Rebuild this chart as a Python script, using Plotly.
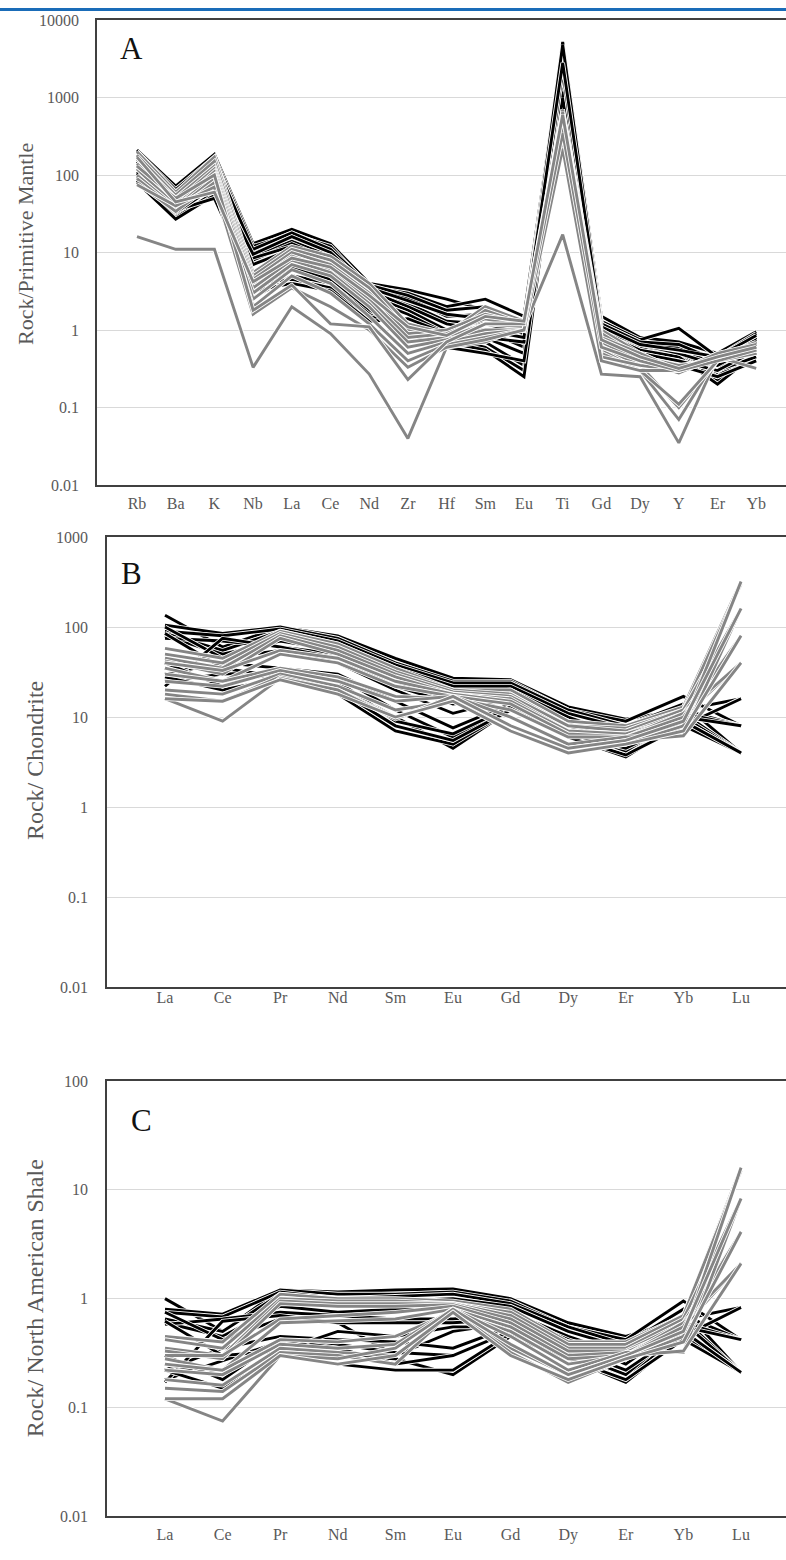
import plotly.graph_objects as go

# ---------------- Panel A : Rock / Primitive Mantle ----------------
elements_a = ["Rb", "Ba", "K", "Nb", "La", "Ce", "Nd", "Zr", "Hf", "Sm", "Eu", "Ti", "Gd", "Dy", "Y", "Er", "Yb"]

a_black = [
    [210, 72, 185, 13, 20, 13, 4.0, 3.3, 2.5, 1.8, 1.3, 5200, 1.5, 0.8, 0.7, 0.5, 0.95],
    [200, 65, 170, 12, 17, 12, 3.6, 3.0, 2.0, 2.5, 1.5, 4500, 1.3, 0.75, 1.05, 0.45, 0.9],
    [180, 55, 160, 10, 15, 10, 3.4, 2.6, 1.5, 1.6, 1.2, 3800, 1.2, 0.7, 0.6, 0.35, 0.85],
    [150, 50, 140, 9, 14, 9, 3.0, 2.2, 1.3, 1.2, 0.9, 3000, 1.1, 0.6, 0.5, 0.3, 0.8],
    [120, 45, 120, 8, 13, 8, 3.2, 2.0, 1.2, 1.0, 0.6, 2500, 1.0, 0.6, 0.55, 0.28, 0.7],
    [110, 40, 110, 8.5, 12, 7, 2.8, 1.8, 1.0, 0.8, 0.5, 2000, 0.9, 0.55, 0.45, 0.25, 0.6],
    [100, 38, 100, 7, 11, 6.5, 2.5, 1.6, 0.9, 0.7, 0.35, 1500, 0.8, 0.5, 0.4, 0.22, 0.5],
    [90, 30, 80, 3.5, 7, 5, 2.0, 1.2, 0.8, 0.6, 0.3, 1800, 0.9, 0.55, 0.45, 0.2, 0.5],
    [85, 28, 60, 3.0, 6.5, 4.5, 1.8, 1.0, 0.7, 0.55, 0.25, 1200, 0.7, 0.45, 0.4, 0.3, 0.45],
    [80, 27, 55, 2.6, 5, 4, 1.6, 0.9, 0.6, 0.5, 0.4, 1000, 0.8, 0.5, 0.35, 0.25, 0.4],
    [95, 35, 50, 4.0, 4.5, 3.5, 1.5, 1.1, 0.7, 0.8, 0.7, 2200, 0.75, 0.5, 0.4, 0.3, 0.55],
    [130, 33, 70, 3.2, 4.0, 3.2, 1.3, 1.4, 0.9, 1.0, 0.8, 3500, 1.0, 0.65, 0.5, 0.35, 0.65],
    [160, 60, 150, 11, 18, 11, 3.8, 2.8, 1.8, 2.0, 1.0, 4800, 1.2, 0.7, 0.65, 0.4, 0.75],
    [105, 42, 90, 9.5, 16, 10, 3.5, 2.4, 1.6, 1.4, 1.1, 2800, 1.1, 0.65, 0.55, 0.45, 0.85],
]
a_gray = [
    [16, 11, 11, 0.33, 2.0, 0.9, 0.27, 0.04, 0.6, 0.7, 1.1, 17, 0.27, 0.25, 0.035, 0.45, 0.32],
    [200, 60, 170, 5.5, 12, 9, 4.0, 1.2, 0.9, 2.0, 1.3, 700, 1.0, 0.5, 0.3, 0.45, 0.7],
    [180, 55, 150, 5, 11, 8, 3.5, 1.0, 0.8, 1.8, 1.2, 650, 0.9, 0.45, 0.35, 0.4, 0.65],
    [160, 50, 130, 4.5, 10, 7, 3.0, 0.9, 1.0, 1.6, 1.2, 600, 0.8, 0.5, 0.3, 0.5, 0.6],
    [140, 45, 120, 4, 9, 6, 2.5, 0.8, 0.9, 1.4, 1.1, 550, 0.7, 0.4, 0.28, 0.45, 0.55],
    [120, 40, 110, 3.5, 8, 5.5, 2.2, 0.7, 0.8, 1.2, 1.1, 500, 0.6, 0.35, 0.1, 0.4, 0.5],
    [100, 38, 100, 3, 7, 5, 2.0, 0.6, 0.75, 1.0, 1.0, 450, 0.55, 0.3, 0.07, 0.45, 0.55],
    [90, 36, 90, 2.5, 6, 4, 1.5, 0.5, 0.7, 0.9, 1.0, 400, 0.5, 0.3, 0.11, 0.4, 0.5],
    [80, 34, 80, 2.0, 5, 3, 1.2, 0.4, 0.65, 0.8, 1.0, 300, 0.45, 0.35, 0.3, 0.45, 0.6],
    [75, 40, 70, 1.6, 3.5, 2, 1.0, 0.33, 0.6, 0.75, 1.0, 220, 0.4, 0.3, 0.3, 0.5, 0.65],
    [130, 50, 100, 1.8, 3.8, 1.2, 1.1, 0.23, 0.7, 1.2, 1.2, 350, 0.6, 0.4, 0.3, 0.4, 0.55],
    [170, 45, 60, 4.2, 8.5, 6.5, 2.8, 1.1, 0.85, 1.5, 1.3, 600, 0.75, 0.45, 0.32, 0.45, 0.6],
]

# ---------------- Panel B : Rock / Chondrite ----------------
elements_ree = ["La", "Ce", "Pr", "Nd", "Sm", "Eu", "Gd", "Dy", "Er", "Yb", "Lu"]

b_black = [
    [135, 60, 100, 80, 45, 27, 26, 13, 9.5, 12, 16],
    [105, 85, 100, 75, 40, 25, 25, 12, 9, 17, 8],
    [90, 80, 95, 70, 38, 24, 24, 12, 8, 14, 4],
    [85, 55, 90, 65, 35, 22, 22, 11, 7.5, 12, 8],
    [80, 50, 70, 55, 30, 18, 20, 10, 6, 11, 4],
    [75, 70, 60, 50, 25, 15, 18, 9, 5, 10, 4],
    [100, 45, 55, 40, 20, 11, 16, 8, 5.5, 10, 8],
    [30, 40, 35, 30, 15, 7.6, 14, 7, 4.5, 9, 4],
    [25, 30, 32, 28, 12, 6, 13, 6.5, 4, 8, 16],
    [22, 75, 60, 45, 22, 14, 17, 9, 5, 11, 8],
    [35, 25, 30, 22, 10, 4.5, 12, 6, 3.6, 9, 4],
    [28, 20, 27, 18, 7, 5, 12, 6, 3.8, 8, 4],
    [40, 22, 35, 25, 9, 6.5, 13, 7, 4.2, 10, 8],
    [85, 35, 28, 20, 8, 5.5, 12, 6.5, 4.5, 9, 4],
]
b_gray = [
    [58, 45, 90, 65, 35, 20, 20, 9, 8, 13, 320],
    [50, 40, 85, 60, 32, 20, 18, 8, 7.5, 12, 300],
    [45, 35, 80, 55, 30, 19, 17, 8, 7, 12, 160],
    [42, 30, 75, 50, 28, 18, 16, 7, 6.5, 11, 80],
    [40, 33, 55, 45, 25, 18, 15, 7, 6.5, 10, 40],
    [35, 25, 50, 40, 22, 17, 14, 6.5, 6, 11, 40],
    [30, 25, 35, 28, 17, 16, 12, 6, 6, 10, 80],
    [25, 22, 33, 25, 15, 17, 10, 5, 6, 6.2, 160],
    [20, 18, 30, 22, 12, 15, 8, 4.5, 5.5, 6.2, 40],
    [18, 15, 28, 20, 10, 16, 7, 4, 5, 8, 320],
    [16, 9, 27, 20, 9.5, 17, 8, 4.5, 5.5, 9, 160],
    [16, 15, 26, 18, 10, 15, 7, 4, 5, 7, 80],
]

# ---------------- Panel C : Rock / North American Shale ----------------
c_black = [
    [1.0, 0.5, 1.2, 1.15, 1.2, 1.23, 1.0, 0.6, 0.45, 0.65, 0.83],
    [0.8, 0.72, 1.2, 1.1, 1.1, 1.15, 0.95, 0.55, 0.42, 0.95, 0.42],
    [0.75, 0.68, 1.15, 1.0, 1.05, 1.1, 0.9, 0.55, 0.38, 0.8, 0.21],
    [0.65, 0.5, 1.1, 0.95, 0.95, 1.0, 0.85, 0.5, 0.35, 0.7, 0.42],
    [0.6, 0.45, 0.85, 0.75, 0.8, 0.8, 0.75, 0.45, 0.3, 0.65, 0.21],
    [0.58, 0.65, 0.75, 0.7, 0.65, 0.65, 0.7, 0.42, 0.28, 0.6, 0.21],
    [0.75, 0.42, 0.65, 0.6, 0.3, 0.5, 0.6, 0.4, 0.27, 0.55, 0.42],
    [0.22, 0.35, 0.45, 0.42, 0.4, 0.35, 0.55, 0.35, 0.22, 0.5, 0.21],
    [0.18, 0.27, 0.4, 0.38, 0.32, 0.3, 0.5, 0.3, 0.2, 0.45, 0.83],
    [0.17, 0.62, 0.7, 0.6, 0.6, 0.6, 0.65, 0.4, 0.25, 0.6, 0.42],
    [0.25, 0.2, 0.38, 0.3, 0.28, 0.2, 0.45, 0.28, 0.17, 0.45, 0.21],
    [0.22, 0.15, 0.3, 0.25, 0.22, 0.22, 0.48, 0.28, 0.18, 0.42, 0.21],
    [0.3, 0.18, 0.42, 0.35, 0.25, 0.3, 0.5, 0.32, 0.2, 0.55, 0.42],
    [0.62, 0.3, 0.33, 0.5, 0.45, 0.55, 0.55, 0.35, 0.22, 0.5, 0.21],
]
c_gray = [
    [0.45, 0.4, 1.1, 1.0, 1.0, 0.95, 0.8, 0.4, 0.4, 0.7, 16],
    [0.42, 0.35, 1.0, 0.95, 0.95, 0.9, 0.75, 0.38, 0.38, 0.7, 15],
    [0.35, 0.3, 0.95, 0.9, 0.9, 0.9, 0.7, 0.35, 0.35, 0.65, 8.3],
    [0.33, 0.28, 0.9, 0.85, 0.85, 0.88, 0.65, 0.33, 0.33, 0.6, 4.1],
    [0.3, 0.3, 0.65, 0.7, 0.75, 0.85, 0.6, 0.3, 0.32, 0.55, 2.1],
    [0.28, 0.22, 0.6, 0.62, 0.65, 0.8, 0.55, 0.28, 0.3, 0.6, 2.1],
    [0.25, 0.22, 0.42, 0.4, 0.45, 0.75, 0.5, 0.25, 0.3, 0.55, 4.1],
    [0.22, 0.2, 0.38, 0.35, 0.38, 0.8, 0.45, 0.22, 0.32, 0.32, 8.3],
    [0.18, 0.16, 0.35, 0.32, 0.3, 0.75, 0.35, 0.2, 0.3, 0.33, 2.1],
    [0.15, 0.14, 0.32, 0.3, 0.25, 0.78, 0.32, 0.17, 0.28, 0.45, 16],
    [0.12, 0.075, 0.3, 0.28, 0.35, 0.8, 0.38, 0.2, 0.3, 0.5, 8.3],
    [0.12, 0.12, 0.3, 0.25, 0.3, 0.75, 0.3, 0.18, 0.28, 0.4, 4.1],
]

a_ticks = [0.01, 0.1, 1, 10, 100, 1000, 10000]
b_ticks = [0.01, 0.1, 1, 10, 100, 1000]
c_ticks = [0.01, 0.1, 1, 10, 100]

W, H = 800, 1560   # figure a bit wider than the window: right edge is cropped like the reference
BLACK = "#000000"
GRAY = "#858585"
AXIS_GRAY = "#595959"
SERIF = "Liberation Serif, Times New Roman, serif"

# the captured page shows the figure slightly shifted/compressed vertically;
# convert target screen rows into figure rows
V_SCALE, V_OFF = 0.989, 7.0


def sy(screen_y):
    return (screen_y - V_OFF) / V_SCALE


fig = go.Figure()


def add_panel(series_black, series_gray, labels, xa, ya):
    xs = list(range(len(labels)))
    for color, group in ((BLACK, series_black), (GRAY, series_gray)):
        for s in group:
            fig.add_trace(go.Scatter(x=xs, y=s, mode="lines", xaxis=xa, yaxis=ya,
                                     line=dict(color="white", width=4.6),
                                     showlegend=False, hoverinfo="skip"))
            fig.add_trace(go.Scatter(x=xs, y=s, mode="lines", xaxis=xa, yaxis=ya,
                                     line=dict(color=color, width=2.9),
                                     showlegend=False))


add_panel(a_black, a_gray, elements_a, "x", "y")
add_panel(b_black, b_gray, elements_ree, "x2", "y2")
add_panel(c_black, c_gray, elements_ree, "x3", "y3")


def ydom(top, bottom):
    return [1 - sy(bottom) / H, 1 - sy(top) / H]


def xaxis_cfg(x_left_px, first_px, step_px, labels, anchor, standoff):
    lo = (x_left_px - first_px) / step_px
    hi = (W - first_px) / step_px
    return dict(domain=[x_left_px / W, 1], range=[lo, hi], anchor=anchor,
                tickmode="array", tickvals=list(range(len(labels))), ticktext=labels,
                showgrid=False, zeroline=False, showline=True, mirror=True,
                linecolor="#404040", linewidth=1.5, ticks="",
                ticklabelstandoff=standoff,
                tickfont=dict(family=SERIF, size=16, color=AXIS_GRAY))


def yaxis_cfg(top, bottom, rng, ticks, anchor, standoff):
    return dict(domain=ydom(top, bottom), type="log", range=rng, anchor=anchor,
                tickmode="array", tickvals=ticks, ticktext=[str(t) for t in ticks],
                showgrid=True, gridcolor="#d9d9d9", gridwidth=1.2,
                zeroline=False, showline=True, mirror=False,
                linecolor="#404040", linewidth=1.5, ticks="",
                ticklabelstandoff=standoff,
                tickfont=dict(family=SERIF, size=16, color=AXIS_GRAY))


fig.update_layout(
    width=W, height=H,
    margin=dict(l=0, r=0, t=0, b=0),
    paper_bgcolor="white", plot_bgcolor="white",
    showlegend=False,
    xaxis=xaxis_cfg(97, 137, 38.7, elements_a, "y", 3),
    yaxis=yaxis_cfg(19, 484, [-2, 4], a_ticks, "x", 13),
    xaxis2=xaxis_cfg(107, 165, 57.6, elements_ree, "y2", -5),
    yaxis2=yaxis_cfg(536, 986, [-2, 3], b_ticks, "x2", 14),
    xaxis3=xaxis_cfg(107, 165, 57.6, elements_ree, "y3", 3),
    yaxis3=yaxis_cfg(1080, 1515, [-2, 2], c_ticks, "x3", 14),
)

annotations = [
    dict(text="Rock/Primitive Mantle", x=25, y=243, textangle=-90, size=22),
    dict(text="Rock/ Chondrite", x=35, y=760, textangle=-90, size=24),
    dict(text="Rock/ North American Shale", x=35, y=1297, textangle=-90, size=24),
]
for a in annotations:
    fig.add_annotation(text=a["text"], x=a["x"] / W, y=1 - sy(a["y"]) / H, xref="paper", yref="paper",
                       xanchor="center", yanchor="middle", textangle=a["textangle"],
                       showarrow=False, font=dict(family=SERIF, size=a["size"], color=AXIS_GRAY))

for letter, px, py in (("A", 131, 47), ("B", 131, 572), ("C", 141, 1119)):
    fig.add_annotation(text=letter, x=px / W, y=1 - sy(py) / H, xref="paper", yref="paper",
                       xanchor="center", yanchor="middle", showarrow=False,
                       font=dict(family=SERIF, size=31, color="#111111"))

# thin blue band at the very top of the page
fig.add_shape(type="rect", xref="paper", yref="paper", x0=0, x1=1, y0=1 - 3 / H, y1=1,
              fillcolor="#1a6cb8", line=dict(width=0), layer="above")

pin = ("var gd=document.getElementById('{plot_id}');"
       "gd.style.position='fixed';gd.style.top='0px';gd.style.left='0px';"
       "document.body.style.margin='0';document.body.style.overflow='hidden';"
       "document.documentElement.style.overflow='hidden';")

fig.write_html("out.html", config={"displayModeBar": False}, post_script=pin)
